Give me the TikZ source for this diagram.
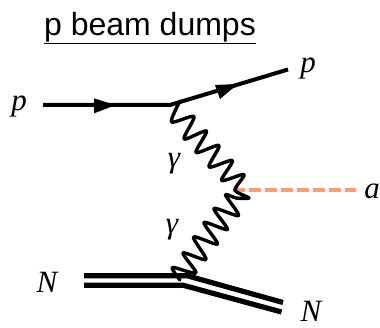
\documentclass[tikz,border=0pt]{standalone}
\usepackage{fontspec}
\setmainfont{Liberation Serif}
\newfontfamily\titlefont{Liberation Sans}
\definecolor{axioncol}{HTML}{FF9A75}
\tikzset{
 fermion/.style={line width=4pt,draw=black,line join=round},
 arrowtip/.style={fill=black,draw=none},
 photon/.style={line width=3.4pt,draw=black,line join=round,line cap=round},
 axion/.style={line width=4.3pt,draw=axioncol,dash pattern=on 12pt off 4pt},
 heavy/.style={line width=5.2pt,draw=black},
 mathlabel/.style={inner sep=0pt,font=\fontsize{31}{31}\selectfont\itshape},
}
\begin{document}
\begin{tikzpicture}[x=1pt,y=-1pt]
\useasboundingbox (0,0) rectangle (380,328);
\node[inner sep=0pt,font=\titlefont\fontsize{32}{32}\selectfont] (title) at (150,28) {\underline{p beam dumps}};
\node[mathlabel] (pin) at (19,106) {p};
\node[mathlabel] (pout) at (308,68) {p};
\node[mathlabel] (g1) at (174,164) {γ};
\node[mathlabel] (g2) at (172,230) {γ};
\node[mathlabel] (a) at (372,191) {a};
\node[mathlabel] (Nin) at (47,282) {N};
\node[mathlabel] (Nout) at (311,311) {N};
\coordinate (pa) at (43,105);
\coordinate (v1) at (170,105);
\coordinate (pb) at (288,69.5);
\coordinate (v2) at (233,190);
\coordinate (ae) at (356,190);
\coordinate (hta) at (84,275.7);
\coordinate (htb) at (187,275.7);
\coordinate (htc) at (283,302.5);
\coordinate (hba) at (84,285.2);
\coordinate (hbb) at (183,285.2);
\coordinate (hbc) at (281.5,312);
\draw[fermion] (pa) -- (v1) -- (pb);
\path[arrowtip] (94,98.3) -- (115.5,105.2) -- (94,113.3) -- cycle;
\path[arrowtip] (215,85) -- (238,84) -- (220,99) -- cycle;
\draw[axion] (v2) -- (ae);
\draw[photon] plot[smooth,tension=0.45] coordinates {(180,101) (171.5,122) (194,116.5) (184,139) (206.5,131) (196,152.5) (219,145.5) (209,167) (232.5,160.5) (221.5,180.5) (244,174.5) (235,190) (249,198) (236,198) (225.5,195) (238.5,215.5) (214,208.5) (227.5,229.5) (204,222.5) (217.5,244) (193.5,237) (206,259.5) (183,253) (196,273) (172.5,267.5) (180,280)};
\draw[heavy] (hta) -- (htb) -- (htc);
\draw[heavy] (hba) -- (hbb) -- (hbc);
\end{tikzpicture}
\end{document}
